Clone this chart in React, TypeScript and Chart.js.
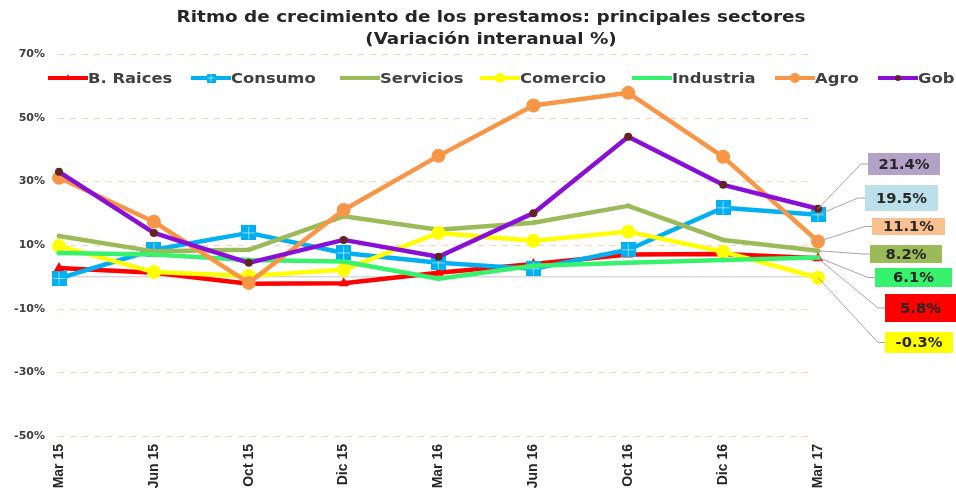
import React, { useEffect, useRef } from 'react';
import { Chart, registerables } from 'chart.js';
import { drawPoint } from 'chart.js/helpers';

Chart.register(...registerables);

const categories = ['Mar 15', 'Jun 15', 'Oct 15', 'Dic 15', 'Mar 16', 'Jun 16', 'Oct 16', 'Dic 16', 'Mar 17'];
const yTicks = [-50, -30, -10, 10, 30, 50, 70];

const seriesNames = ['B. Raices', 'Consumo', 'Servicios', 'Comercio', 'Industria', 'Agro', 'Gob'];
const bRaices = [2.8, 1.3, -2.2, -2.0, 1.3, 4.0, 7.0, 7.2, 5.8];
const consumo = [-0.5, 8.5, 13.8, 7.5, 4.4, 2.5, 8.5, 21.7, 19.5];
const servicios = [12.8, 8.0, 8.5, 19.0, 14.8, 17.0, 22.3, 11.6, 8.2];
const comercio = [9.7, 1.5, 0.3, 2.2, 13.8, 11.3, 14.2, 7.9, -0.3];
const industria = [7.5, 7.0, 5.3, 4.8, -0.6, 3.5, 4.4, 5.3, 6.1];
const agro = [31.1, 17.3, -1.9, 21.0, 38.0, 53.8, 57.8, 37.7, 11.1];
const gob = [33.0, 13.8, 4.4, 11.6, 6.3, 20.0, 44.0, 28.9, 21.4];

const titleLines = ['Ritmo de crecimiento de los prestamos: principales sectores', '(Variación interanual %)'];

function makeSquare(size: number, color: string): HTMLCanvasElement {
  const c = document.createElement('canvas');
  c.width = size;
  c.height = size;
  const g = c.getContext('2d')!;
  g.fillStyle = color;
  g.fillRect(0, 0, size, size);
  g.strokeStyle = 'rgba(255,255,255,0.55)';
  g.lineWidth = 1;
  g.beginPath();
  g.moveTo(size / 2, 1);
  g.lineTo(size / 2, size - 1);
  g.moveTo(1, size / 2);
  g.lineTo(size - 1, size / 2);
  g.stroke();
  return c;
}

function stretchedText(ctx: CanvasRenderingContext2D, text: string, x: number, y: number, sx: number) {
  ctx.save();
  ctx.translate(x, y);
  ctx.scale(sx, 1);
  ctx.fillText(text, 0, 0);
  ctx.restore();
}

export default function App() {
  const ref = useRef<HTMLCanvasElement | null>(null);

  useEffect(() => {
    document.body.style.margin = '0';
    const canvas = ref.current!;
    const bigSquare = makeSquare(15, '#00B0F0');
    const smallSquare = makeSquare(9, '#00B0F0');

    const styles = [
      { color: '#FF0000', pointStyle: 'triangle' as any, radius: 6, pointColor: '#FF0000', legendStyle: 'triangle' as any, legendRadius: 4 },
      { color: '#00B0F0', pointStyle: bigSquare as any, radius: 7, pointColor: '#00B0F0', legendStyle: smallSquare as any, legendRadius: 4 },
      { color: '#9BBB59', pointStyle: 'circle' as any, radius: 2.5, pointColor: '#9BBB59', legendStyle: 'circle' as any, legendRadius: 2 },
      { color: '#FFFF00', pointStyle: 'circle' as any, radius: 7, pointColor: '#FFFF00', legendStyle: 'circle' as any, legendRadius: 5 },
      { color: '#36F26C', pointStyle: 'circle' as any, radius: 2.5, pointColor: '#36F26C', legendStyle: 'circle' as any, legendRadius: 2 },
      { color: '#F79646', pointStyle: 'circle' as any, radius: 7, pointColor: '#F79646', legendStyle: 'circle' as any, legendRadius: 5 },
      { color: '#8A0FD6', pointStyle: 'circle' as any, radius: 4, pointColor: '#632523', legendStyle: 'circle' as any, legendRadius: 3 },
    ];
    const seriesData = [bRaices, consumo, servicios, comercio, industria, agro, gob];
    const legendX = [48, 191, 340, 480, 632, 775, 878];

    const labelBoxes = [
      { left: 885, top: 294, w: 71, h: 28, bg: '#FF0000' },
      { left: 865, top: 185, w: 73, h: 26, bg: '#BCE0EA' },
      { left: 870, top: 245, w: 72, h: 18, bg: '#9BBB59' },
      { left: 885, top: 332, w: 68, h: 21, bg: '#FFFF00' },
      { left: 875, top: 268, w: 77, h: 19, bg: '#36F26C' },
      { left: 872, top: 218, w: 73, h: 17, bg: '#FAC090' },
      { left: 868, top: 153, w: 72, h: 22, bg: '#B3A2C7' },
    ];

    const decorPlugin = {
      id: 'decor',
      beforeDatasetsDraw(chart: any) {
        const { ctx, chartArea } = chart;
        const ys = chart.scales.y;
        ctx.save();
        // dashed grid lines
        ctx.strokeStyle = '#FAD3B8';
        ctx.lineWidth = 1.2;
        ctx.setLineDash([6, 6]);
        yTicks.forEach((v) => {
          const y = Math.round(ys.getPixelForValue(v)) + 0.5;
          ctx.beginPath();
          ctx.moveTo(chartArea.left - 1, y);
          ctx.lineTo(chartArea.right - 4, y);
          ctx.stroke();
        });
        ctx.setLineDash([]);
        // zero line
        const y0 = ys.getPixelForValue(0);
        ctx.strokeStyle = '#D9D9D9';
        ctx.lineWidth = 1.5;
        ctx.beginPath();
        ctx.moveTo(chartArea.left, y0);
        ctx.lineTo(chartArea.right, y0);
        ctx.stroke();
        ctx.restore();
      },
      afterDraw(chart: any) {
        const { ctx } = chart;
        ctx.save();
        // title
        ctx.fillStyle = '#262626';
        ctx.font = 'bold 16px "DejaVu Sans"';
        ctx.textBaseline = 'middle';
        ctx.textAlign = 'center';
        stretchedText(ctx, titleLines[0], 491, 18, 1.15);
        stretchedText(ctx, titleLines[1], 491, 40, 1.15);

        // legend
        ctx.font = 'bold 14px "DejaVu Sans"';
        ctx.textAlign = 'left';
        const ly = 78;
        chart.data.datasets.forEach((ds: any, i: number) => {
          const x = legendX[i];
          const st = styles[i];
          ctx.strokeStyle = st.color;
          ctx.lineWidth = 4;
          ctx.beginPath();
          ctx.moveTo(x, ly);
          ctx.lineTo(x + 40, ly);
          ctx.stroke();
          ctx.fillStyle = st.pointColor;
          ctx.strokeStyle = st.pointColor;
          drawPoint(ctx, { pointStyle: st.legendStyle, radius: st.legendRadius, rotation: 0, borderWidth: 0 } as any, x + 20, ly);
          ctx.fillStyle = '#404040';
          stretchedText(ctx, ds.label, x + 40, ly + 1, 1.17);
        });

        // end labels with leader lines
        ctx.font = 'bold 14px "DejaVu Sans"';
        ctx.textAlign = 'center';
        chart.data.datasets.forEach((ds: any, i: number) => {
          const meta = chart.getDatasetMeta(i);
          const pt = meta.data[meta.data.length - 1];
          const b = labelBoxes[i];
          const cy = b.top + b.h / 2;
          ctx.strokeStyle = '#A6A6A6';
          ctx.lineWidth = 1;
          ctx.beginPath();
          ctx.moveTo(pt.x, pt.y);
          ctx.lineTo(b.left - 7, cy);
          ctx.lineTo(b.left, cy);
          ctx.stroke();
          ctx.fillStyle = b.bg;
          ctx.fillRect(b.left, b.top, b.w, b.h);
          ctx.fillStyle = '#262626';
          const v = ds.data[ds.data.length - 1];
          stretchedText(ctx, v.toFixed(1) + '%', b.left + b.w / 2, cy + 1, 1.05);
        });
        ctx.restore();
      },
    };

    const chart = new Chart(canvas, {
      type: 'line',
      data: {
        labels: categories,
        datasets: seriesNames.map((name, i) => ({
          label: name,
          data: seriesData[i],
          borderColor: styles[i].color,
          backgroundColor: styles[i].pointColor,
          borderWidth: 4.5,
          borderJoinStyle: 'round' as any,
          tension: 0,
          pointStyle: styles[i].pointStyle,
          pointRadius: styles[i].radius,
          pointHoverRadius: styles[i].radius,
          pointBackgroundColor: styles[i].pointColor,
          pointBorderColor: styles[i].pointColor,
          pointBorderWidth: 0,
          order: -i,
          clip: false as any,
        })),
      },
      options: {
        responsive: false,
        animation: false,
        devicePixelRatio: 1,
        layout: { padding: { left: 0, right: 138, top: 54, bottom: 0 } },
        plugins: {
          legend: { display: false },
          title: { display: false },
          tooltip: { enabled: false },
        },
        scales: {
          x: {
            type: 'category',
            offset: false,
            grid: { display: false, drawTicks: false },
            border: { display: false },
            ticks: {
              autoSkip: false,
              maxRotation: 90,
              minRotation: 90,
              padding: 8,
              color: '#262626',
              font: { family: '"Liberation Sans", Arial, sans-serif', size: 14, weight: 'bold' },
            },
            afterFit(scale: any) {
              scale.height = 53;
            },
          },
          y: {
            min: -50,
            max: 70,
            afterBuildTicks(scale: any) {
              scale.ticks = yTicks.map((v) => ({ value: v }));
            },
            grid: { display: false, drawTicks: false },
            border: { display: false },
            ticks: {
              padding: 14,
              color: '#404040',
              font: { family: '"DejaVu Sans"', size: 11, weight: 'bold' },
              callback: (v: any) => v + '%',
            },
            afterFit(scale: any) {
              scale.width = 59;
            },
          },
        },
      },
      plugins: [decorPlugin],
    });

    return () => chart.destroy();
  }, []);

  return <canvas ref={ref} width={956} height={489} style={{ display: 'block' }} />;
}
